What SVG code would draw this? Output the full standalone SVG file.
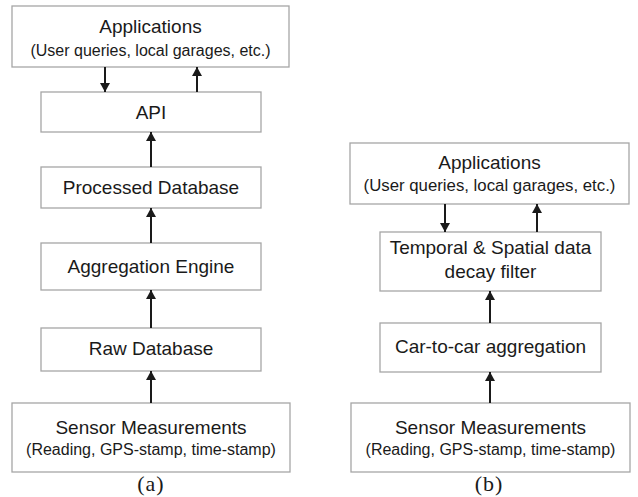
<svg xmlns="http://www.w3.org/2000/svg" width="638" height="497" viewBox="0 0 638 497">
<style>
.box{fill:#fff;stroke:#a6a6a6;stroke-width:1.3}
.t1{font-family:"Liberation Sans",Arial,sans-serif;font-size:19px;fill:#1a1a1a;text-anchor:middle}
.t2{font-family:"Liberation Sans",Arial,sans-serif;font-size:16px;fill:#1a1a1a;text-anchor:middle}
.cap{font-family:"Liberation Serif","Times New Roman",serif;font-size:22px;fill:#1a1a1a;text-anchor:middle;letter-spacing:1px}
.arr{stroke:#1a1a1a;stroke-width:2;fill:none;marker-end:url(#ah)}
</style>
<defs>
<marker id="ah" viewBox="0 0 10 10" refX="10" refY="5" markerWidth="9" markerHeight="10" markerUnits="userSpaceOnUse" orient="auto" preserveAspectRatio="none">
<path d="M0,0 L10,5 L0,10 z" fill="#1a1a1a"/>
</marker>
</defs>
<rect width="638" height="497" fill="#fff"/>
<g id="a-applications"><rect class="box" x="12" y="6" width="277" height="61"/><text class="t1" x="150.5" y="33">Applications</text><text class="t2" x="150.5" y="56">(User queries, local garages, etc.)</text></g>
<g id="a-api"><rect class="box" x="41" y="92" width="220" height="40"/><text class="t1" x="151" y="119">API</text></g>
<g id="a-processed"><rect class="box" x="41" y="167" width="220" height="41"/><text class="t1" x="151" y="194">Processed Database</text></g>
<g id="a-aggregation"><rect class="box" x="41" y="243" width="220" height="47"/><text class="t1" x="151" y="273">Aggregation Engine</text></g>
<g id="a-raw"><rect class="box" x="41" y="328" width="220" height="43"/><text class="t1" x="151" y="355">Raw Database</text></g>
<g id="a-sensor"><rect class="box" x="12" y="403" width="278" height="69"/><text class="t1" x="151" y="434">Sensor Measurements</text><text class="t2" x="151" y="455">(Reading, GPS-stamp, time-stamp)</text></g>
<text class="cap" x="151" y="491">(a)</text>
<g id="b-applications"><rect class="box" x="350" y="143" width="279" height="61"/><text class="t1" x="489.5" y="169">Applications</text><text class="t2" x="489.5" y="191" style="font-size:16.8px">(User queries, local garages, etc.)</text></g>
<g id="b-filter"><rect class="box" x="380" y="232" width="221" height="59"/><text class="t1" x="490.5" y="254">Temporal &amp; Spatial data</text><text class="t1" x="490.5" y="278">decay filter</text></g>
<g id="b-car"><rect class="box" x="380" y="323" width="221" height="49"/><text class="t1" x="490.5" y="353">Car-to-car aggregation</text></g>
<g id="b-sensor"><rect class="box" x="351" y="403" width="279" height="69"/><text class="t1" x="490.5" y="434">Sensor Measurements</text><text class="t2" x="490.5" y="455">(Reading, GPS-stamp, time-stamp)</text></g>
<text class="cap" x="489" y="491">(b)</text>
<g id="connectors">
<line class="arr" x1="105" y1="67" x2="105" y2="92"/>
<line class="arr" x1="197" y1="92" x2="197" y2="67"/>
<line class="arr" x1="151" y1="167" x2="151" y2="132"/>
<line class="arr" x1="151" y1="243" x2="151" y2="208"/>
<line class="arr" x1="151" y1="328" x2="151" y2="290"/>
<line class="arr" x1="151" y1="403" x2="151" y2="371"/>
<line class="arr" x1="445" y1="204" x2="445" y2="232"/>
<line class="arr" x1="537" y1="232" x2="537" y2="204"/>
<line class="arr" x1="490" y1="323" x2="490" y2="291"/>
<line class="arr" x1="490" y1="403" x2="490" y2="372"/>
</g>
</svg>
